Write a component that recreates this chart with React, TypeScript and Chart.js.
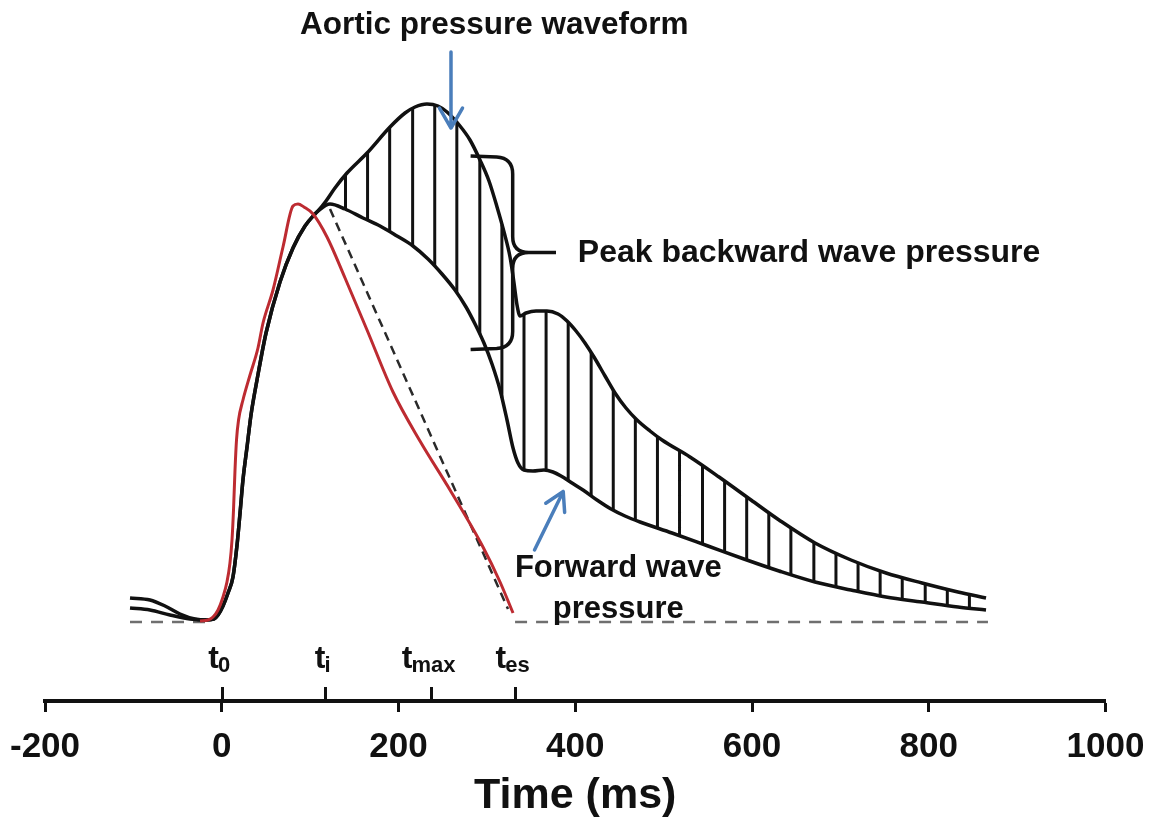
import React, { useEffect, useRef } from 'react';
import { Chart, registerables } from 'chart.js';

Chart.register(...registerables);

const FONT = "'Liberation Sans', Arial, Helvetica, sans-serif";

// time (ms), pressure (arbitrary units above end-diastolic baseline)
const aorticWave: number[][] = [
  [-103.8, 4.8], [-81.2, 4.4], [-64.2, 3.2], [-47.2, 1.6], [-30.3, 0.6], [-16.7, 0.4], [-8.8, 0.6],
  [-4.2, 1.4], [1.4, 3.2], [7.1, 5.8], [12.7, 9.0], [17.3, 15.4], [20.7, 21.8], [24.0, 28.4],
  [28.6, 35.0], [33.1, 41.4], [39.9, 48.4], [50.1, 57.8], [65.9, 68.0], [80.6, 74.8], [94.2, 79.2],
  [105.5, 81.6], [108.9, 82.2], [118.0, 84.2], [128.1, 86.8], [141.7, 89.8], [164.4, 93.8],
  [190.4, 99.0], [207.4, 101.8], [218.7, 103.0], [232.2, 103.6], [244.7, 103.2], [254.9, 102.0],
  [269.6, 99.2], [280.9, 96.4], [292.2, 92.4], [302.4, 88.2], [311.5, 83.0], [319.4, 78.0],
  [326.2, 73.0], [330.7, 67.8], [334.1, 63.4], [337.5, 61.2], [344.3, 61.8], [355.6, 62.2],
  [368.0, 62.2], [380.5, 61.6], [390.7, 60.2], [400.9, 58.2], [411.0, 55.8], [421.2, 53.0],
  [433.7, 49.2], [445.0, 45.8], [457.4, 42.8], [469.9, 40.4], [484.6, 38.2], [498.2, 36.4],
  [529.8, 33.0], [562.7, 29.0], [598.9, 24.4], [630.6, 20.4], [671.3, 15.8], [712.0, 12.4],
  [751.6, 9.8], [792.4, 7.8], [833.1, 6.0], [864.8, 4.8],
];

const forwardWave: number[][] = [
  [-103.8, 2.8], [-81.2, 2.4], [-58.6, 1.4], [-35.9, 0.6], [-19.0, 0.4], [-8.8, 0.6],
  [-4.2, 1.4], [1.4, 3.2], [7.1, 5.8], [12.7, 9.0], [17.3, 15.4], [20.7, 21.8], [24.0, 28.4],
  [28.6, 35.0], [33.1, 41.4], [39.9, 48.4], [50.1, 57.8], [65.9, 68.0], [80.6, 74.8], [94.2, 79.2],
  [105.5, 81.6], [108.9, 82.2], [122.5, 83.6], [139.5, 82.6], [159.8, 80.8], [179.1, 79.2],
  [198.3, 77.2], [216.4, 75.2], [233.4, 72.6], [249.2, 69.6], [263.9, 66.4], [276.4, 63.0],
  [286.6, 59.6], [296.7, 55.8], [305.8, 51.6], [314.9, 46.4], [322.8, 40.4], [329.6, 34.8],
  [335.2, 31.8], [342.0, 30.4], [352.2, 30.2], [364.6, 30.4], [374.8, 30.0], [383.9, 29.2],
  [396.3, 27.8], [408.8, 26.4], [424.6, 24.4], [440.5, 22.6], [456.3, 21.2], [473.3, 20.0],
  [509.5, 17.8], [550.2, 15.2], [590.9, 12.6], [630.6, 10.2], [671.3, 8.0], [712.0, 6.4],
  [751.6, 5.0], [792.4, 4.0], [833.1, 3.0], [864.8, 2.4],
];

const redWave: number[][] = [
  [-24.6, 0.2], [-15.6, 0.4], [-9.9, 1.0], [-4.2, 2.4], [1.4, 5.0], [5.9, 8.0], [9.3, 11.8],
  [11.6, 16.4], [13.3, 22.4], [15.0, 30.4], [16.7, 36.4], [19.0, 40.4], [24.0, 44.4], [32.0, 49.4],
  [41.0, 54.8], [46.7, 59.8], [58.0, 66.4], [69.3, 75.0], [80.6, 83.2], [86.3, 83.6], [93.0, 83.0],
  [103.3, 81.6], [119.1, 77.0], [139.5, 68.8], [164.4, 58.4], [193.8, 46.0], [224.3, 36.2],
  [258.3, 26.4], [295.6, 15.0], [314.9, 8.0], [329.6, 1.8],
];

const triangleLine: number[][] = [[122.5, 82.6], [323.9, 2.6]];

const baselineLeft: number[][] = [[-103.8, 0], [-16.7, 0]];
const baselineRight: number[][] = [[331.9, 0], [867.0, 0]];

const hatchTimes: number[] = [
  140, 165, 190, 216, 241, 266, 292, 317, 342, 367, 392, 418, 443, 468, 493,
  518, 544, 569, 594, 619, 644, 670, 695, 720, 745, 770, 796, 821, 846,
];

const xTickValues: number[] = [-200, 0, 200, 400, 600, 800, 1000];

const timeMarkers = [
  { t: 0, sub: '0' },
  { t: 117, sub: 'i' },
  { t: 237, sub: 'max' },
  { t: 332, sub: 'es' },
];

const BLACK = '#111111';
const RED = '#bd2b31';
const BLUE = '#4a7ebb';

function toXY(wave: number[][]) {
  return wave.map(([x, y]) => ({ x, y }));
}

function valueAt(wave: number[][], t: number): number | null {
  for (let i = 0; i < wave.length - 1; i++) {
    const [t0, v0] = wave[i];
    const [t1, v1] = wave[i + 1];
    if (t >= t0 && t <= t1) return v0 + ((v1 - v0) * (t - t0)) / (t1 - t0);
  }
  return null;
}

const annotationPlugin = {
  id: 'figureAnnotations',
  afterDraw(chart: any) {
    const ctx = chart.ctx as CanvasRenderingContext2D;
    const xs = chart.scales.x;
    const ys = chart.scales.y;
    const px = (t: number) => xs.getPixelForValue(t);
    const py = (v: number) => ys.getPixelForValue(v);
    ctx.save();

    // upward marker ticks on the time axis
    ctx.strokeStyle = BLACK;
    ctx.lineWidth = 3;
    ctx.lineCap = 'butt';
    for (const m of timeMarkers) {
      const x = Math.round(px(m.t)) + 0.5;
      ctx.beginPath();
      ctx.moveTo(x, xs.top);
      ctx.lineTo(x, xs.top - 14);
      ctx.stroke();
    }

    // marker labels t0, ti, tmax, tes
    ctx.fillStyle = BLACK;
    ctx.textAlign = 'left';
    ctx.textBaseline = 'alphabetic';
    for (const m of timeMarkers) {
      ctx.font = `bold 32px ${FONT}`;
      const wt = ctx.measureText('t').width;
      ctx.font = `bold 22px ${FONT}`;
      const ws = ctx.measureText(m.sub).width;
      const left = px(m.t) - 2 - (wt + ws) / 2;
      const base = xs.top - 33;
      ctx.font = `bold 32px ${FONT}`;
      ctx.fillText('t', left, base);
      ctx.font = `bold 22px ${FONT}`;
      ctx.fillText(m.sub, left + wt - 1, base + 4);
    }

    // text labels
    ctx.fillStyle = BLACK;
    ctx.textBaseline = 'middle';
    ctx.textAlign = 'center';
    ctx.font = `bold 31.5px ${FONT}`;
    ctx.fillText('Aortic pressure waveform', px(308.4), py(119.4));
    ctx.textAlign = 'left';
    ctx.font = `bold 32px ${FONT}`;
    ctx.fillText('Peak backward wave pressure', px(402.9), py(73.8));
    ctx.textAlign = 'center';
    ctx.font = `bold 31px ${FONT}`;
    ctx.fillText('Forward wave', px(448.7), py(10.8));
    ctx.fillText('pressure', px(448.7), py(2.5));

    // arrows
    const arrow = (t1: number, v1: number, t2: number, v2: number, head: number) => {
      const x1 = px(t1), y1 = py(v1), x2 = px(t2), y2 = py(v2);
      const ang = Math.atan2(y1 - y2, x1 - x2);
      ctx.beginPath();
      ctx.moveTo(x1, y1);
      ctx.lineTo(x2, y2);
      ctx.moveTo(x2 + head * Math.cos(ang - Math.PI / 6), y2 + head * Math.sin(ang - Math.PI / 6));
      ctx.lineTo(x2, y2);
      ctx.lineTo(x2 + head * Math.cos(ang + Math.PI / 6), y2 + head * Math.sin(ang + Math.PI / 6));
      ctx.stroke();
    };
    ctx.strokeStyle = BLUE;
    ctx.lineWidth = 3.5;
    ctx.lineCap = 'round';
    ctx.lineJoin = 'round';
    arrow(259.4, 114.0, 259.4, 98.8, 23);
    arrow(353.9, 14.4, 386.4, 26.1, 21);

    // curly brace
    const L = px(281.6), V = px(329.2), T = px(378.2);
    const yt = py(93.2), ym = py(73.9), yb = py(54.5);
    const r = 16;
    ctx.strokeStyle = BLACK;
    ctx.lineWidth = 3.5;
    ctx.lineCap = 'butt';
    ctx.beginPath();
    ctx.moveTo(L, yt);
    ctx.lineTo(V - r, yt + 1);
    ctx.quadraticCurveTo(V, yt + 2, V, yt + r + 2);
    ctx.lineTo(V, ym - r);
    ctx.quadraticCurveTo(V, ym, V + r, ym);
    ctx.lineTo(T, ym);
    ctx.moveTo(V + r, ym);
    ctx.quadraticCurveTo(V, ym, V, ym + r);
    ctx.lineTo(V, yb - r - 2);
    ctx.quadraticCurveTo(V, yb - 2, V - r, yb - 1);
    ctx.lineTo(L, yb);
    ctx.stroke();

    ctx.restore();
  },
};

export default function App() {
  const canvasRef = useRef<HTMLCanvasElement | null>(null);

  useEffect(() => {
    const canvas = canvasRef.current;
    if (!canvas) return;

    const hatchData: any[] = [];
    for (const t of hatchTimes) {
      hatchData.push({ x: t, y: valueAt(aorticWave, t) });
      hatchData.push({ x: t, y: valueAt(forwardWave, t) });
      hatchData.push({ x: t, y: null });
    }

    const lineBase = {
      pointRadius: 0,
      pointHoverRadius: 0,
      fill: false,
      spanGaps: false,
    };

    const chart = new Chart(canvas, {
      type: 'line',
      data: {
        datasets: [
          {
            ...lineBase,
            label: 'Baseline',
            data: [...toXY(baselineLeft), { x: 100, y: null }, ...toXY(baselineRight)],
            borderColor: '#6f6f6f',
            borderWidth: 2.5,
            borderDash: [12, 9],
            tension: 0,
            order: 6,
          },
          {
            ...lineBase,
            label: 'Backward wave hatching',
            data: hatchData,
            borderColor: BLACK,
            borderWidth: 3,
            tension: 0,
            order: 5,
          },
          {
            ...lineBase,
            label: 'Triangular flow',
            data: toXY(triangleLine),
            borderColor: '#2a2a2a',
            borderWidth: 2.5,
            borderDash: [9, 6],
            tension: 0,
            order: 4,
          },
          {
            ...lineBase,
            label: 'Forward wave pressure',
            data: toXY(forwardWave),
            borderColor: BLACK,
            borderWidth: 3.5,
            cubicInterpolationMode: 'monotone',
            order: 3,
          },
          {
            ...lineBase,
            label: 'Aortic pressure waveform',
            data: toXY(aorticWave),
            borderColor: BLACK,
            borderWidth: 3.5,
            cubicInterpolationMode: 'monotone',
            order: 2,
          },
          {
            ...lineBase,
            label: 'Flow',
            data: toXY(redWave),
            borderColor: RED,
            borderWidth: 3,
            cubicInterpolationMode: 'monotone',
            order: 1,
          },
        ],
      },
      options: {
        animation: false,
        responsive: false,
        devicePixelRatio: 1,
        events: [],
        layout: { padding: { left: 45, right: 48.5, top: 0, bottom: 0 } },
        plugins: {
          legend: { display: false },
          tooltip: { enabled: false },
        },
        scales: {
          x: {
            type: 'linear',
            position: 'bottom',
            min: -200,
            max: 1000,
            afterFit: (s: any) => {
              s.height = 120;
              s.paddingLeft = 0;
              s.paddingRight = 0;
            },
            afterBuildTicks: (s: any) => {
              s.ticks = xTickValues.map((v) => ({ value: v }));
            },
            ticks: {
              autoSkip: false,
              maxRotation: 0,
              padding: 18,
              color: BLACK,
              font: { family: FONT, size: 35, weight: 'bold', lineHeight: 1 },
              callback: (v: any) => String(v),
            },
            grid: {
              drawOnChartArea: false,
              drawTicks: true,
              tickLength: 11,
              tickWidth: 3,
              tickColor: BLACK,
            },
            border: { display: true, color: BLACK, width: 4 },
            title: {
              display: true,
              text: 'Time (ms)',
              color: BLACK,
              font: { family: FONT, size: 43, weight: 'bold', lineHeight: 1 },
              padding: { top: 0, bottom: 3 },
            },
          },
          y: {
            type: 'linear',
            display: false,
            min: -15.8,
            max: 124.4,
          },
        },
      } as any,
      plugins: [annotationPlugin],
    });

    return () => {
      chart.destroy();
    };
  }, []);

  return (
    <div style={{ position: 'fixed', left: 0, top: 0, width: 1154, height: 821, background: '#ffffff' }}>
      <canvas ref={canvasRef} width={1154} height={821} style={{ display: 'block', width: 1154, height: 821 }} />
    </div>
  );
}
